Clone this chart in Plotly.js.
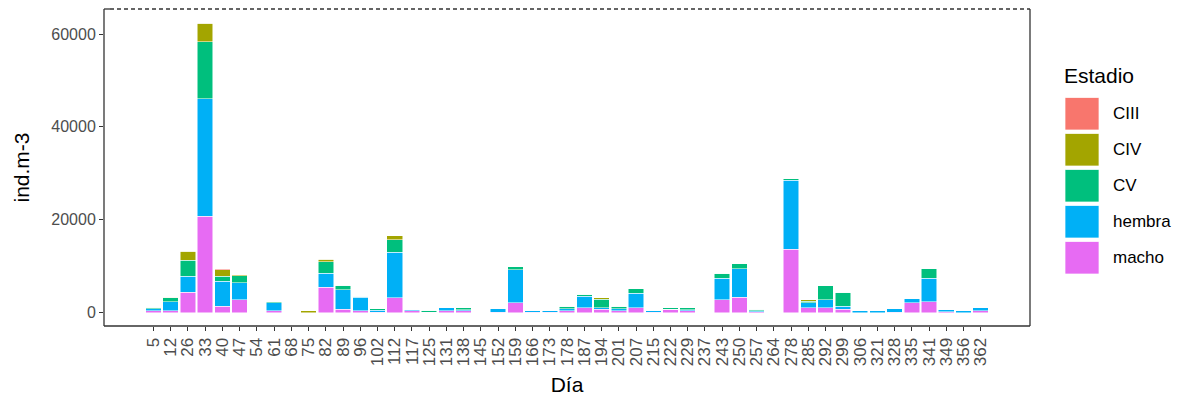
<!DOCTYPE html>
<html>
<head>
<meta charset="utf-8">
<script src="https://cdn.plot.ly/plotly-3.0.1.min.js"></script>
<style>html,body{margin:0;padding:0;background:#fff;}#chart{width:1197px;height:403px;}</style>
</head>
<body>
<div id="chart"></div>
<script>
// ---- data ----
const days = ['5','12','26','33','40','47','54','61','68','75','82','89','96','102','112','117','125','131','138','145','152','159','166','173','178','187','194','201','207','215','222','229','237','243','250','257','264','278','285','292','299','306','321','328','335','341','349','356','362'];
const macho  = [350,430,4380,20730,1365,2730,0,360,0,0,5390,650,360,100,3150,350,100,360,360,0,100,2080,100,100,360,1005,650,430,1005,50,650,360,0,2730,3300,215,0,13620,1005,1005,650,0,0,100,2080,2370,150,0,430];
const hembra = [450,1900,3450,25340,5390,3660,0,1720,0,0,3090,4250,2900,350,9780,400,0,720,215,0,700,7110,400,400,500,2550,360,430,3160,400,100,215,0,4670,6180,215,0,14930,1150,1720,650,350,350,700,1005,5030,600,450,650];
const CV     = [300,800,3380,12280,1080,1510,0,290,0,0,2440,1005,215,350,2800,0,400,0,500,0,0,720,0,0,500,360,1870,500,930,0,300,430,0,1080,1005,290,0,290,290,3020,3090,0,0,0,0,2010,0,0,0];
const CIV    = [0,150,2010,3970,1365,215,0,0,0,400,575,0,0,0,860,0,0,0,0,0,0,0,0,0,0,0,290,0,0,0,0,0,0,0,0,0,0,0,290,0,0,0,0,0,0,0,0,0,0];
const CIII   = [0,0,0,0,215,0,0,0,0,0,0,0,0,0,0,0,0,0,0,0,0,0,0,0,0,0,0,0,0,0,0,0,0,0,0,0,0,0,0,0,0,0,0,0,0,0,0,0,0];
const stageNames  = ['CIII','CIV','CV','hembra','macho'];
const stageValues = [CIII, CIV, CV, hembra, macho];
const stageColors = ['#F8766D','#A3A500','#00BF7D','#00B0F6','#E76BF3'];
const yTicks = [0,20000,40000,60000];

// ---- layout geometry (px) ----
const W = 1197, H = 403;
const L = 104, R = 1030, T = 9, B = 326;
const pw = R - L, ph = B - T;
const px2x = p => (p - L) / pw;
const py2y = p => (B - p) / ph;

// traces: bottom of stack first (macho), top last (CIII)
const traces = [];
for (let i = stageNames.length - 1; i >= 0; i--) {
  traces.push({
    type: 'bar', name: stageNames[i], x: days, y: stageValues[i],
    marker: {color: stageColors[i], line: {color: 'rgba(255,255,255,0.85)', width: 0.6}},
    width: 0.9, showlegend: false, hoverinfo: 'x+y+name'
  });
}

const font = 'Liberation Sans, Arial, sans-serif';
const shapes = [
  {type:'line', xref:'paper', yref:'paper', x0:0, x1:0, y0:0, y1:1, line:{color:'#333333', width:1.3}},
  {type:'line', xref:'paper', yref:'paper', x0:1, x1:1, y0:0, y1:1, line:{color:'#333333', width:1.3}},
  {type:'line', xref:'paper', yref:'paper', x0:0, x1:1, y0:0, y1:0, line:{color:'#333333', width:1.3}},
  {type:'line', xref:'paper', yref:'paper', x0:0, x1:px2x(110), y0:1, y1:1, line:{color:'#333333', width:1.3}},
  {type:'line', xref:'paper', yref:'paper', x0:px2x(110), x1:1, y0:1, y1:1, line:{color:'#333333', width:1.3, dash:'4px,3px'}}
];
const annotations = [
  {xref:'paper', yref:'paper', x:px2x(1062), y:py2y(75), text:'Estadio', showarrow:false,
   xanchor:'left', yanchor:'middle', font:{family:font, size:21, color:'#000'}}
];
stageNames.forEach((n, i) => {
  const top = 97.5 + 36 * i, bot = top + 32.5;
  shapes.push({type:'rect', xref:'paper', yref:'paper', x0:px2x(1065), x1:px2x(1099), y0:py2y(bot), y1:py2y(top),
    fillcolor: stageColors[i], line:{color:'rgba(255,255,255,0.9)', width:0.8}});
  annotations.push({xref:'paper', yref:'paper', x:px2x(1111), y:py2y((top+bot)/2), text:n, showarrow:false,
    xanchor:'left', yanchor:'middle', font:{family:font, size:17, color:'#000'}});
});

const layout = {
  width: W, height: H,
  margin: {l: L, r: W - R, t: T, b: H - B, pad: 0},
  paper_bgcolor: '#fff', plot_bgcolor: '#fff',
  barmode: 'stack', bargap: 0.1,
  showlegend: false,
  font: {family: font, color: '#000'},
  xaxis: {
    type: 'category', categoryorder: 'array', categoryarray: days,
    tickmode: 'array', tickvals: days, ticktext: days,
    range: [-2.87, 50.86], showgrid: false, zeroline: false, showline: false,
    ticks: 'outside', ticklen: 4, tickwidth: 1, tickcolor: '#333333',
    tickangle: -90, tickfont: {family: font, size: 17, color: '#4D4D4D'},
    title: {text: 'Día', font: {family: font, size: 21, color: '#000'}, standoff: 12},
    automargin: false
  },
  yaxis: {
    range: [-2910, 65400], tickvals: yTicks, ticktext: yTicks.map(String),
    showgrid: false, zeroline: false, showline: false,
    ticks: 'outside', ticklen: 4, tickwidth: 1, tickcolor: '#333333',
    tickfont: {family: font, size: 16, color: '#4D4D4D'},
    title: {text: 'ind.m-3', font: {family: font, size: 21, color: '#000'}, standoff: 15},
    automargin: false
  },
  shapes: shapes,
  annotations: annotations
};

Plotly.newPlot('chart', traces, layout, {displayModeBar: false, staticPlot: true});
</script>
</body>
</html>
